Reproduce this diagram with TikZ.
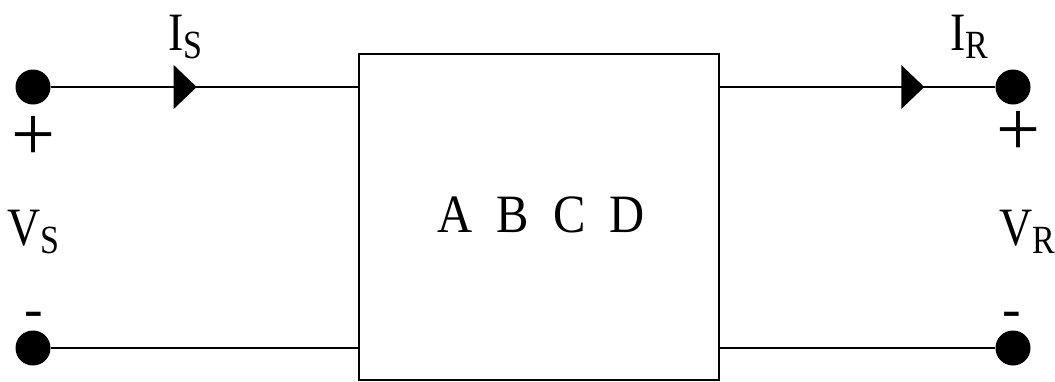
\documentclass[tikz,border=0pt]{standalone}
\usepackage{fontspec}
\setmainfont{Liberation Serif}
\usetikzlibrary{decorations.markings}
\newcommand\lowsub[1]{\raisebox{-8pt}{\fontsize{40pt}{40pt}\selectfont #1}}
\newcommand\narrow[1]{\scalebox{0.85}[1]{#1}}
\tikzset{
  dot/.style={circle, fill=black, inner sep=0pt, minimum size=35pt},
  wire/.style={line width=2pt},
  lbl/.style={inner sep=0pt, font=\fontsize{54pt}{54pt}\selectfont},
  sign/.style={inner sep=0pt, font=\fontsize{78pt}{78pt}\selectfont},
  minus/.style={inner sep=0pt, font=\fontsize{56pt}{56pt}\selectfont},
  arrowat/.style={postaction={decorate}, decoration={markings,
    mark=at position #1 with {\fill (-23pt,-22pt) -- (0pt,0pt) -- (-23pt,22pt) -- cycle;}}},
  twoport/.style={draw, line width=2.5pt, minimum width=360pt, minimum height=326pt, inner sep=0pt}
}
\begin{document}
\begin{tikzpicture}[x=1pt, y=-1pt]
\useasboundingbox (0,0) rectangle (1055,381);
\node[twoport] (box) at (539,217) {};
\node[lbl, anchor=base] (abcd) at (541,232) {\scalebox{0.9}[1]{A\hspace{0.5em}B\hspace{0.5em}C\hspace{0.5em}D}};
\node[dot] (Ls) at (33,87) {};
\node[dot] (Lr) at (33,348) {};
\node[dot] (Rs) at (1013,87) {};
\node[dot] (Rr) at (1013,348) {};
\draw[wire, arrowat=146pt] (Ls) -- (box.west |- Ls);
\draw[wire, arrowat=204pt] (box.east |- Rs) -- (Rs);
\draw[wire] (Lr) -- (box.west |- Lr);
\draw[wire] (box.east |- Rr) -- (Rr);
\node[lbl, anchor=base west] (is) at (168,50) {\narrow{I\lowsub{S}}};
\node[lbl, anchor=base west] (ir) at (950,50) {\narrow{I\lowsub{R}}};
\node[lbl, anchor=base west] (vs) at (7,245) {\narrow{V\lowsub{S}}};
\node[lbl, anchor=base west] (vr) at (999,245) {\narrow{V\lowsub{R}}};
\node[sign, anchor=base] (lp) at (33,160) {+};
\node[sign, anchor=base] (rp) at (1018,155) {+};
\node[minus, anchor=base] (lm) at (34,327) {-};
\node[minus, anchor=base] (rm) at (1012,327) {-};
\end{tikzpicture}
\end{document}
